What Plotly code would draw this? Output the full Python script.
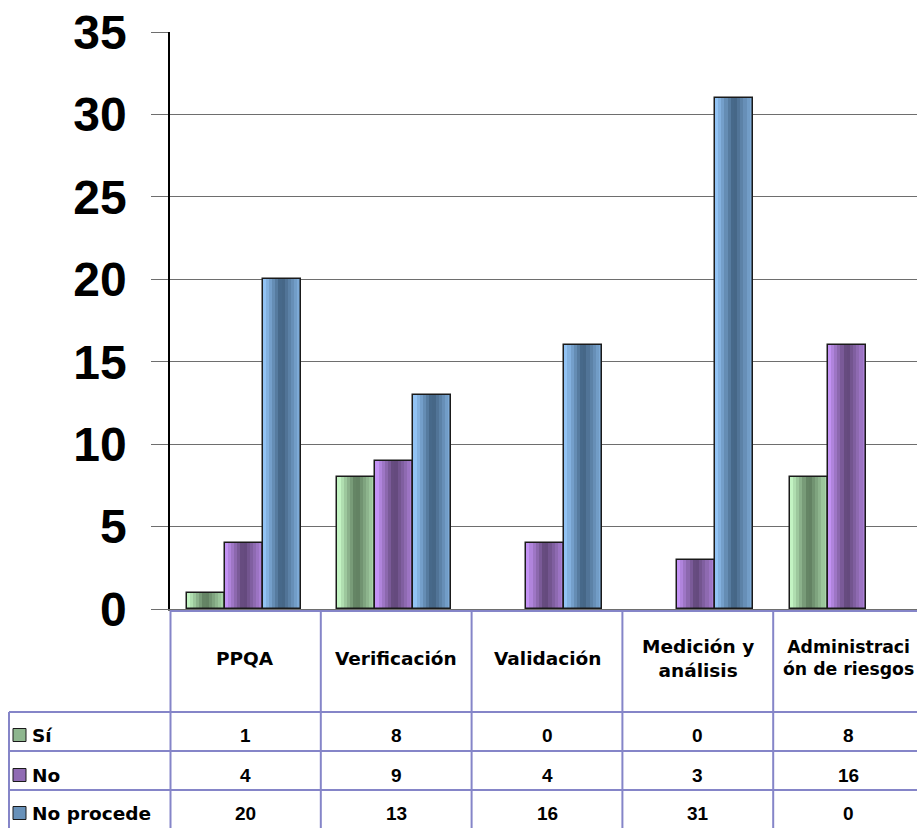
import plotly.graph_objects as go

# ---------------- data ----------------
categories = ["PPQA", "Verificación", "Validación", "Medición y análisis", "Administración de riesgos"]
header_labels = ["PPQA", "Verificación", "Validación", "Medición y<br>análisis", "Administraci<br>ón de riesgos"]
series_names = ["Sí", "No", "No procede"]
si = [1, 8, 0, 0, 8]
no = [4, 9, 4, 3, 16]
no_procede = [20, 13, 16, 31, 0]
y_tick_vals = [0, 5, 10, 15, 20, 25, 30, 35]

series_values = [si, no, no_procede]

# ---------------- styling ----------------
W, H = 917, 828
ML, MT, MB, MR = 170, 32, 219, 0
PW, PH = W - ML - MR, H - MT - MB
BOTTOM = H - MB
CAT_PX = 150.8
FONT = "Arial, Liberation Sans, Helvetica, sans-serif"
WIDE = "DejaVu Sans, Arial, sans-serif"

light = [(204, 255, 204), (204, 153, 255), (153, 204, 255)]
dark = [(92, 122, 92), (94, 69, 117), (64, 96, 127)]
offsets = [-0.39, -0.138, 0.114]
bar_w = 0.252
N_STRIPS = 12
GRID = "#6e6e6e"
TABLE = "#8585c8"


def mix(c1, c2, m):
    return "rgb(%d,%d,%d)" % tuple(round(a * (1 - m) + b * m) for a, b in zip(c1, c2))


def shade(t):
    # light -> dark -> lighter
    if t < 0.5:
        return t / 0.5
    return 1 - (t - 0.5) / 0.5 * 0.75


def pxx(p):
    return (p - ML) / PW


def pxy(p):
    return (BOTTOM - p) / PH


fig = go.Figure()

for s, vals in enumerate(series_values):
    for k in range(N_STRIPS):
        t = (k + 0.5) / N_STRIPS
        fig.add_trace(go.Bar(
            x=categories, y=vals,
            offset=offsets[s] + bar_w * k / N_STRIPS,
            width=bar_w * (N_STRIPS - k) / N_STRIPS,
            marker=dict(color=mix(light[s], dark[s], shade(t)), line=dict(width=0), opacity=1),
            showlegend=False, hoverinfo="skip",
        ))
    fig.add_trace(go.Bar(
        x=categories, y=[v if v > 0 else None for v in vals],
        offset=offsets[s], width=bar_w, name=series_names[s],
        marker=dict(color="rgba(0,0,0,0)", line=dict(color="#1a1a1a", width=1.5)),
        showlegend=False,
    ))

shapes = []
ann = []

# table lines
line = dict(color=TABLE, width=2)
shapes.append(dict(type="line", xref="paper", yref="paper", x0=0, x1=1.02,
                   y0=pxy(611), y1=pxy(611), line=line))
for yy in [712, 751, 790]:
    shapes.append(dict(type="line", xref="paper", yref="paper", x0=pxx(9), x1=1.02,
                       y0=pxy(yy), y1=pxy(yy), line=line))
shapes.append(dict(type="line", xref="paper", yref="paper", x0=pxx(170.5), x1=pxx(170.5),
                   y0=pxy(611), y1=pxy(832), line=line))
shapes.append(dict(type="line", xref="paper", yref="paper", x0=pxx(9), x1=pxx(9),
                   y0=pxy(712), y1=pxy(832), line=line))
for i in range(len(categories) - 1):
    shapes.append(dict(type="line", xref="x", yref="paper", x0=i + 0.5, x1=i + 0.5,
                       y0=pxy(611), y1=pxy(832), line=line))

lfont = dict(family=WIDE, size=18.5, color="black", weight="bold")
nfont = dict(family=FONT, size=19, color="black", weight="bold")

for i, lab in enumerate(header_labels):
    f = dict(lfont)
    if i == len(header_labels) - 1:
        f["size"] = 17.3
    ann.append(dict(x=categories[i], xref="x", y=pxy(658), yref="paper", text=lab,
                    showarrow=False, font=f, xanchor="center", yanchor="middle"))

row_centers = [735, 775, 813]
for s, vals in enumerate(series_values):
    yc = row_centers[s]
    shapes.append(dict(type="rect", xref="paper", yref="paper",
                       x0=pxx(13), x1=pxx(26), y0=pxy(yc - 6.5), y1=pxy(yc + 6.5),
                       fillcolor=mix(light[s], dark[s], 0.55), line=dict(color="#1a1a1a", width=1)))
    ann.append(dict(x=pxx(30), xref="paper", y=pxy(yc), yref="paper", text=series_names[s],
                    showarrow=False, font=lfont, xanchor="left", yanchor="middle"))
    for i, v in enumerate(vals):
        ann.append(dict(x=categories[i], xref="x", y=pxy(yc), yref="paper", text=str(v),
                        showarrow=False, font=nfont, xanchor="center", yanchor="middle"))

fig.update_layout(
    width=W, height=H,
    margin=dict(l=ML, r=MR, t=MT, b=MB),
    paper_bgcolor="white", plot_bgcolor="white",
    barmode="overlay", bargap=0,
    shapes=shapes, annotations=ann,
    xaxis=dict(type="category", categoryorder="array", categoryarray=categories,
               range=[-0.5, -0.5 + PW / CAT_PX], showticklabels=False, showgrid=False,
               showline=True, linecolor=GRID, linewidth=1.5, ticks="", zeroline=False),
    yaxis=dict(range=[0, 35], tickvals=y_tick_vals, showgrid=True, gridcolor=GRID, gridwidth=1.3,
               zeroline=False, showline=True, linecolor="black", linewidth=1.5,
               ticks="outside", ticklen=17, tickcolor=GRID, tickwidth=1.3,
               ticklabelstandoff=15,
               tickfont=dict(family=FONT, size=48, color="black", weight="bold")),
)

fig.write_html("out.html")
